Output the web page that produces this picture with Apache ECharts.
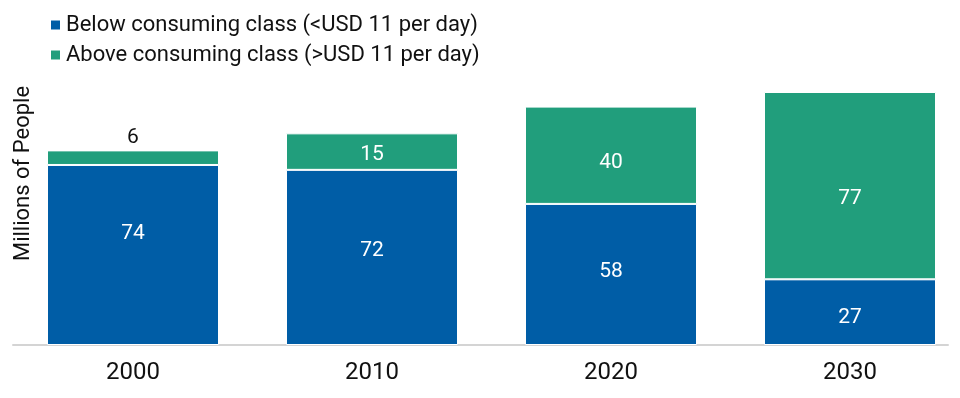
<!DOCTYPE html>
<html><head><meta charset="utf-8">
<script src="https://cdn.jsdelivr.net/npm/echarts@6/dist/echarts.min.js"></script>
<style>html,body{margin:0;padding:0;background:#fff}#c{width:960px;height:398px}</style>
</head><body><div id="c"></div>
<script>
const categories = ['2000', '2010', '2020', '2030'];
const belowValues = [74, 72, 58, 27];
const aboveValues = [6, 15, 40, 77];
const seriesNames = ['Below consuming class (<USD 11 per day)', 'Above consuming class (>USD 11 per day)'];
const yAxisName = 'Millions of People';

const chart = echarts.init(document.getElementById('c'), null, {renderer: 'canvas'});
const font = 'Roboto';
const blueLabelShift = [-21, -7, -3, 6];
const greenLabelShift = [0, 3, 7, 13];
chart.setOption({
  animation: false,
  textStyle: {fontFamily: font},
  legend: {
    orient: 'vertical', left: 44, top: 9, itemWidth: 11, itemHeight: 11, itemGap: 8,
    icon: 'rect',
    textStyle: {fontSize: 22, color: '#111', fontFamily: font},
    data: seriesNames
  },
  grid: [
    {left: 13.5, width: 956, top: 92, height: 253, containLabel: false, outerBoundsMode: 'none'},
    {left: 13, width: 935, top: 92, height: 253, containLabel: false, outerBoundsMode: 'none'}
  ],
  xAxis: [
    {type: 'category', data: categories, gridIndex: 0,
     axisLine: {show: false}, axisTick: {show: false},
     axisLabel: {fontSize: 24, color: '#111', margin: 16, fontFamily: font}},
    {type: 'category', data: categories, gridIndex: 1,
     axisLine: {show: true, lineStyle: {color: '#d4d4d4', width: 2}}, axisTick: {show: false},
     axisLabel: {show: false}}
  ],
  yAxis: [
    {type: 'value', min: 0, max: 104, gridIndex: 0, show: true,
     axisLine: {show: false}, axisTick: {show: false}, axisLabel: {show: false}, splitLine: {show: false},
     name: yAxisName, nameLocation: 'middle', nameRotate: 90, nameGap: -21,
     nameTextStyle: {fontSize: 22, color: '#111', fontFamily: font, padding: [0, 0, 0, 90]}},
    {type: 'value', min: 0, max: 104, gridIndex: 1, show: false}
  ],
  series: [
    {name: seriesNames[0], type: 'bar', stack: 'a', barWidth: 172,
     data: belowValues.map((v, i) => ({value: v, label: {offset: [0, blueLabelShift[i]]}})),
     itemStyle: {color: '#005DA6', borderColor: '#fff', borderWidth: 1},
     label: {show: true, position: 'inside', color: '#fff', fontSize: 21, fontFamily: font}},
    {name: seriesNames[1], type: 'bar', stack: 'a', barWidth: 172,
     data: aboveValues.map((v, i) => i === 0 ? {
        value: v, label: {position: 'top', color: '#111', distance: 2}} :
        {value: v, label: {offset: [0, greenLabelShift[i]]}}),
     itemStyle: {color: '#219E7C', borderColor: '#fff', borderWidth: 1},
     label: {show: true, position: 'inside', color: '#fff', fontSize: 21, fontFamily: font}}
  ]
});
</script></body></html>
